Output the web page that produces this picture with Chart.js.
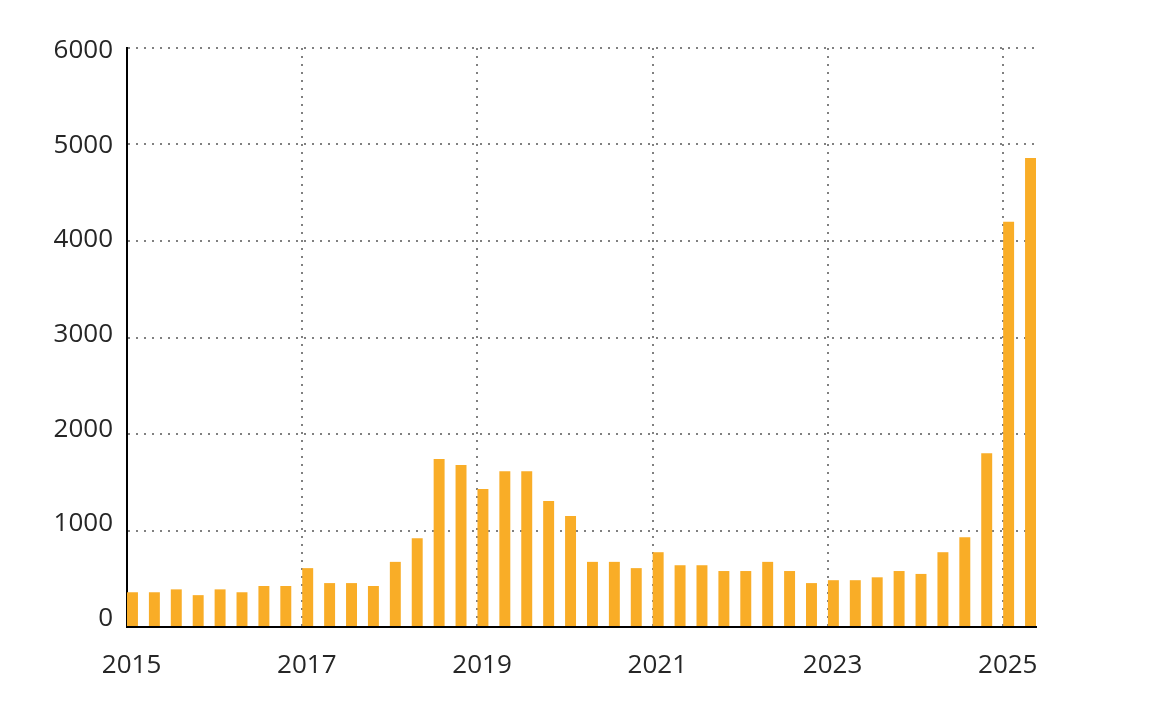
<!DOCTYPE html>
<html>
<head>
<meta charset="utf-8">
<script src="https://cdn.jsdelivr.net/npm/chart.js@4/dist/chart.umd.min.js"></script>
<style>
  html, body { margin: 0; padding: 0; background: #ffffff; }
  #wrap { width: 1149px; height: 701px; }
</style>
</head>
<body>
<div id="wrap"><canvas id="c" width="1149" height="701"></canvas></div>
<script>
// Quarterly categories
const quarters = [
  '2015 Q1','2015 Q2','2015 Q3','2015 Q4',
  '2016 Q1','2016 Q2','2016 Q3','2016 Q4',
  '2017 Q1','2017 Q2','2017 Q3','2017 Q4',
  '2018 Q1','2018 Q2','2018 Q3','2018 Q4',
  '2019 Q1','2019 Q2','2019 Q3','2019 Q4',
  '2020 Q1','2020 Q2','2020 Q3','2020 Q4',
  '2021 Q1','2021 Q2','2021 Q3','2021 Q4',
  '2022 Q1','2022 Q2','2022 Q3','2022 Q4',
  '2023 Q1','2023 Q2','2023 Q3','2023 Q4',
  '2024 Q1','2024 Q2','2024 Q3','2024 Q4',
  '2025 Q1','2025 Q2'
];
// Series values
const values = [
  360, 360, 390, 330,
  390, 360, 425, 425,
  610, 455, 455, 425,
  675, 920, 1740, 1680,
  1430, 1615, 1615, 1305,
  1150, 675, 675, 610,
  775, 640, 640, 580,
  580, 675, 580, 455,
  485, 485, 515, 580,
  550, 775, 930, 1800,
  4200, 4860
];
// Tick labels
const xTickLabels = ['2015', '2017', '2019', '2021', '2023', '2025'];
const yTickValues = [0, 1000, 2000, 3000, 4000, 5000, 6000];

const xTickPositions = xTickLabels.map(y => quarters.indexOf(y + ' Q1'));
const points = values.map((v, i) => ({ x: i + 0.25, y: v }));

const FONT = { family: '"Open Sans", "Noto Sans", sans-serif', size: 26 };
const TEXT = '#262626';
const X_MAX = quarters.length - 0.5;

new Chart(document.getElementById('c'), {
  type: 'bar',
  data: {
    datasets: [{
      data: points,
      xAxisID: 'x',
      yAxisID: 'y',
      backgroundColor: '#F9AD27',
      borderWidth: 0,
      categoryPercentage: 1.0,
      barPercentage: 0.5
    }]
  },
  options: {
    responsive: false,
    animation: false,
    layout: { padding: { left: 0, right: 113, top: 48, bottom: 0 } },
    plugins: { legend: { display: false }, tooltip: { enabled: false } },
    scales: {
      // grid / data axis (x)
      x: {
        type: 'linear',
        position: 'bottom',
        offset: false,
        min: 0,
        max: X_MAX,
        grid: { offset: false, color: '#808080', lineWidth: 2, drawTicks: false },
        border: { display: true, color: '#000000', width: 2, dash: [2, 6] },
        afterBuildTicks: (scale) => { scale.ticks = xTickPositions.map(v => ({ value: v })); },
        afterFit: (scale) => { scale.height = 0; },
        ticks: { display: false }
      },
      // label axis (x)
      xLabels: {
        type: 'linear',
        position: 'bottom',
        offset: false,
        min: -0.21,
        max: X_MAX - 0.21,
        grid: { display: false, drawTicks: false },
        border: { display: false },
        afterBuildTicks: (scale) => { scale.ticks = xTickPositions.map(v => ({ value: v })); },
        afterFit: (scale) => { scale.height = 701 - 627; },
        ticks: {
          autoSkip: false,
          maxRotation: 0,
          padding: 23,
          color: TEXT,
          font: FONT,
          callback: (v) => xTickLabels[xTickPositions.indexOf(v)]
        }
      },
      // grid / data axis (y)
      y: {
        position: 'left',
        min: 0,
        max: 6000,
        grid: { color: '#808080', lineWidth: 2, drawTicks: false },
        border: { display: true, color: '#000000', width: 2, dash: [2, 6] },
        afterBuildTicks: (scale) => { scale.ticks = yTickValues.map(v => ({ value: v })); },
        afterFit: (scale) => { scale.width = 0; },
        ticks: { display: false }
      },
      // label axis (y)
      yLabels: {
        position: 'left',
        min: -90,
        max: 6026,
        grid: { display: false, drawTicks: false },
        border: { display: false },
        afterBuildTicks: (scale) => { scale.ticks = yTickValues.map(v => ({ value: v })); },
        afterFit: (scale) => { scale.width = 127; },
        ticks: {
          padding: 14,
          color: TEXT,
          font: FONT,
          callback: (v) => String(v)
        }
      }
    }
  }
});
</script>
</body>
</html>
